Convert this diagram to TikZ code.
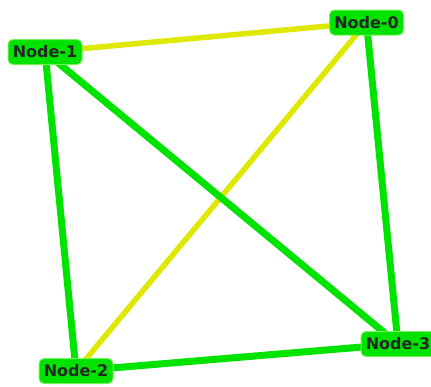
\documentclass[tikz,border=0pt]{standalone}
\usepackage{fontspec}
\setmainfont{DejaVu Sans}
\definecolor{ngreen}{RGB}{0,226,0}
\definecolor{nyellow}{RGB}{222,232,0}
\definecolor{glow}{RGB}{120,240,90}
\begin{document}
\begin{tikzpicture}[x=1pt,y=-1pt,
  nodebox/.style={fill=ngreen,draw=glow,line width=1pt,rounded corners=5pt,
    minimum width=74pt,minimum height=25pt,inner sep=0pt,
    font=\fontsize{16}{16}\selectfont\bfseries,text=black!85},
  gedge/.style={draw=ngreen,line width=7pt},
  yedge/.style={draw=nyellow,line width=5.5pt}]
\useasboundingbox (0,0) rectangle (431,386);
\coordinate (c1) at (45,52);
\coordinate (c0) at (366.5,22.5);
\coordinate (c2) at (76,371);
\coordinate (c3) at (398,344);
\draw[yedge] (c1) -- (c0);
\draw[yedge] (c0) -- (c2);
\draw[gedge] (c1) -- (c2);
\draw[gedge] (c1) -- (c3);
\draw[gedge] (c0) -- (c3);
\draw[gedge] (c2) -- (c3);
\node[nodebox] (n1) at (c1) {Node-1};
\node[nodebox] (n0) at (c0) {Node-0};
\node[nodebox] (n2) at (c2) {Node-2};
\node[nodebox] (n3) at (c3) {Node-3};
\end{tikzpicture}
\end{document}
